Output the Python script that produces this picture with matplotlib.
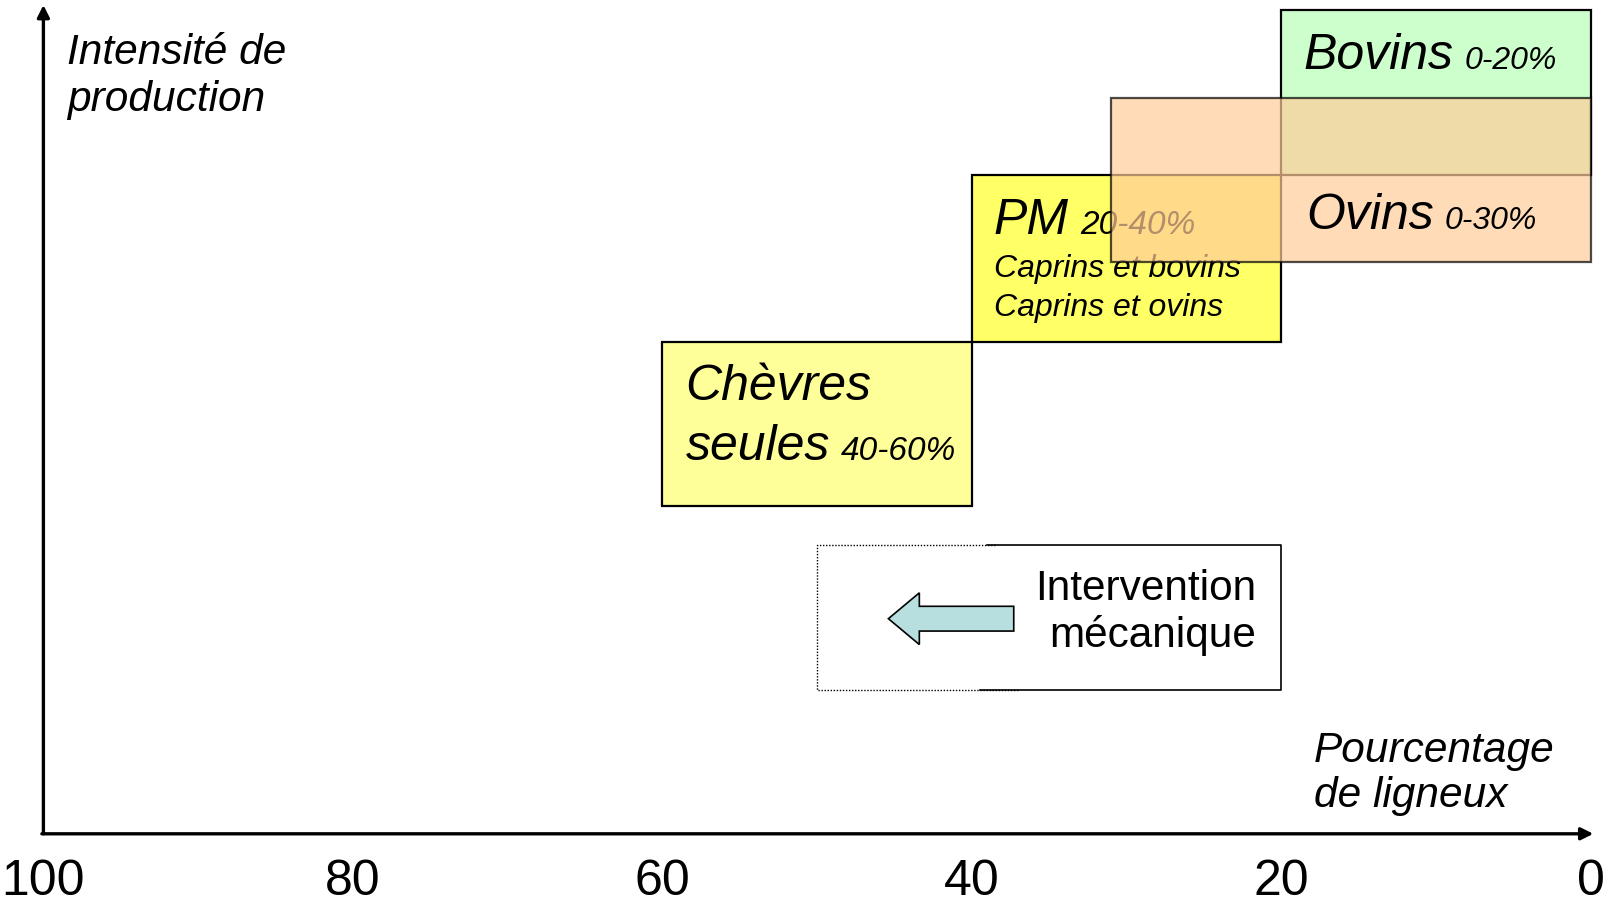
import matplotlib.pyplot as plt
from matplotlib.patches import Rectangle, FancyArrow

plt.rcParams['font.family'] = ['Liberation Sans', 'DejaVu Sans']

# x = pourcentage de ligneux, y = intensite de production (schematic units 0-100)
ticks = [100, 80, 60, 40, 20, 0]

# boxes: (name, pct label, x from, x to, y bottom, y top, colour)
box_names = ['Bovins', 'PM', 'Chèvres', 'Ovins']
box_pct = ['0-20%', '20-40%', '40-60%', '0-30%']
box_x0 = [20, 40, 60, 31]
box_x1 = [0, 20, 40, 0]
box_y0 = [79, 59, 39.3, 68.6]
box_y1 = [98.8, 79, 59, 88.2]
box_colors = ['#CCFFCC', '#FFFF66', '#FFFF99', '#FFCC99']

# mechanical intervention frame and arrow
interv_x = [50, 20]
interv_y = [17.25, 34.64]
interv_arrow = (37.3, 45.4, 25.8)  # tail x, tip x, y

fig = plt.figure(figsize=(16.22, 9.02), dpi=100)
ax = fig.add_axes([43.4 / 1622, (902 - 833.8) / 902, (1591 - 43.4) / 1622, 833.8 / 902])
ax.set_xlim(100, 0)
ax.set_ylim(0, 100)
ax.set_facecolor('none')
for s in ['top', 'right', 'left', 'bottom']:
    ax.spines[s].set_visible(False)
ax.set_yticks([])
ax.set_xticks(ticks)
ax.set_xticklabels([str(t) for t in ticks], fontsize=36)
ax.tick_params(axis='x', length=0, pad=17.8)

# axes arrows
ax.annotate('', xy=(100, 99.4), xytext=(100, 0), xycoords='data',
            arrowprops=dict(arrowstyle='-|>', lw=2.4, color='black',
                            mutation_scale=18, shrinkA=0, shrinkB=0),
            annotation_clip=False)
ax.annotate('', xy=(-0.15, 0), xytext=(100.1, 0), xycoords='data',
            arrowprops=dict(arrowstyle='-|>', lw=2.4, color='black',
                            mutation_scale=18, shrinkA=0, shrinkB=0),
            annotation_clip=False)

# boxes
zs = [1, 2, 2, 5]
for i in range(4):
    alpha = 0.7 if box_names[i] == 'Ovins' else 1.0
    r = Rectangle((box_x0[i], box_y0[i]), box_x1[i] - box_x0[i], box_y1[i] - box_y0[i],
                  facecolor=box_colors[i], edgecolor='black', lw=1.6, alpha=alpha,
                  zorder=zs[i], clip_on=False)
    ax.add_patch(r)


def label(x, y, big, small, big_size, small_size, z):
    t = ax.text(x, y, big, fontsize=big_size, style='italic', va='baseline',
                ha='left', zorder=z)
    ax.annotate(small, xy=(1, y), xycoords=(t, 'data'), xytext=(8, 0),
                textcoords='offset points', fontsize=small_size, style='italic',
                va='baseline', ha='left', zorder=z)


label(18.6, 91.7, 'Bovins', box_pct[0], 36, 23, 3)
label(38.6, 71.96, 'PM', box_pct[1], 36, 24, 3)
ax.text(38.6, 66.78, 'Caprins et bovins', fontsize=23, style='italic', va='baseline', zorder=3)
ax.text(38.6, 62.16, 'Caprins et ovins', fontsize=23, style='italic', va='baseline', zorder=3)
ax.text(58.5, 52.03, 'Chèvres', fontsize=36, style='italic', va='baseline', zorder=3)
label(58.5, 44.83, 'seules', box_pct[2], 36, 24, 3)
label(18.4, 72.58, 'Ovins', box_pct[3], 36, 23, 6)

# intervention frame: dotted left part, solid right part
ax.plot([38.5, interv_x[0], interv_x[0], 37], [interv_y[1], interv_y[1], interv_y[0], interv_y[0]],
        color='black', lw=1.0, ls=(0, (1, 1.2)), clip_on=False)
ax.plot([39, interv_x[1], interv_x[1], 39.5], [interv_y[1], interv_y[1], interv_y[0], interv_y[0]],
        color='black', lw=1.2, clip_on=False)
tail, tip, ya = interv_arrow
ax.add_patch(FancyArrow(tail, ya, tip - tail, 0, width=2.97, head_width=6.2,
                        head_length=2.0, length_includes_head=True,
                        facecolor='#B7DFE0', edgecolor='black', lw=1.2))
ax.text(21.64, 28.04, 'Intervention', fontsize=30.5, ha='right', va='baseline')
ax.text(21.64, 22.46, 'mécanique', fontsize=30.5, ha='right', va='baseline')

# axis titles
ax.text(98.48, 92.32, 'Intensité de', fontsize=30.5, style='italic', va='baseline')
ax.text(98.48, 86.69, 'production', fontsize=30.5, style='italic', va='baseline')
ax.text(17.9, 8.61, 'Pourcentage', fontsize=30.5, style='italic', va='baseline')
ax.text(17.9, 3.21, 'de ligneux', fontsize=30.5, style='italic', va='baseline')

fig.savefig('out.png', dpi=100)
